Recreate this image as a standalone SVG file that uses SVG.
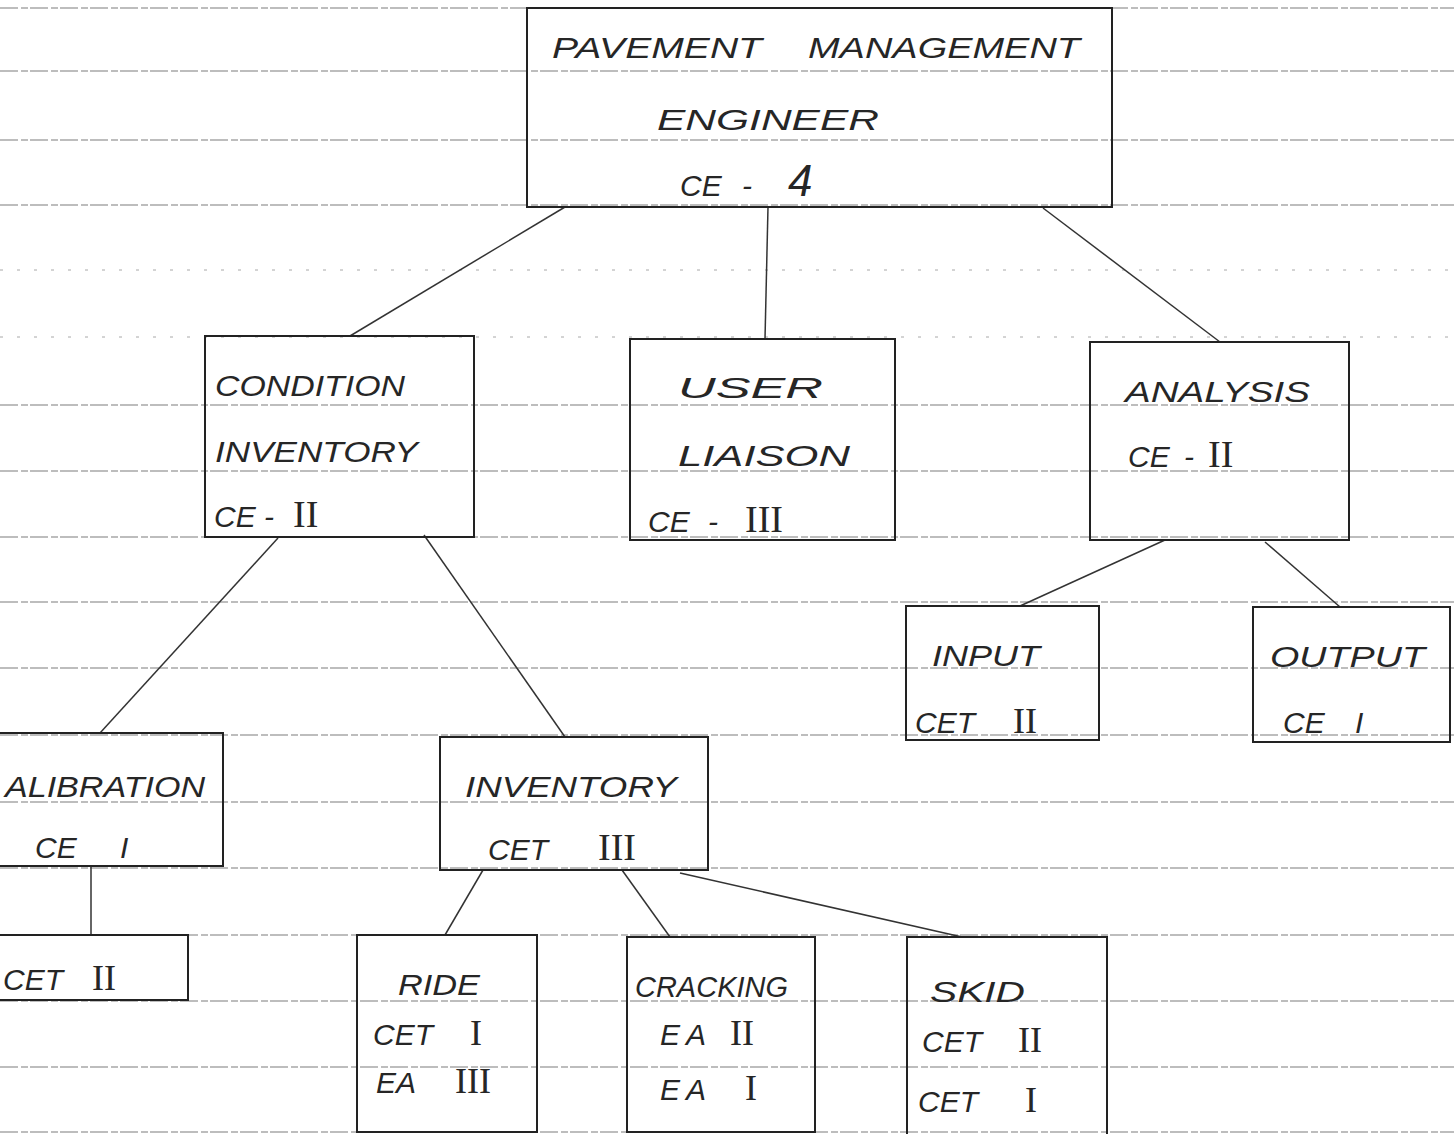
<svg xmlns="http://www.w3.org/2000/svg" width="1454" height="1134" viewBox="0 0 1454 1134">
<style>
.rule{stroke:#7d7d7d;stroke-width:1.2;stroke-dasharray:18 3 7 2;fill:none}
.faint{stroke:#a8a8a8;stroke-width:1;stroke-dasharray:3 14;fill:none}
.box{fill:none;stroke:#222;stroke-width:2}
.conn line{stroke:#333;stroke-width:1.5}
text{font-family:"Liberation Sans","DejaVu Sans",sans-serif;font-style:italic;fill:#262626;font-size:30px}
.rn{font-family:"Liberation Serif","DejaVu Serif",serif;font-style:normal}
</style>
<rect width="1454" height="1134" fill="#fff"/>
<g id="paper-rules">
<line class="rule" x1="0" y1="8" x2="1454" y2="8"/>
<line class="rule" x1="0" y1="71" x2="1454" y2="71"/>
<line class="rule" x1="0" y1="140" x2="1454" y2="140"/>
<line class="rule" x1="0" y1="205" x2="1454" y2="205"/>
<line class="faint" x1="0" y1="270" x2="1454" y2="270"/>
<line class="faint" x1="0" y1="337" x2="1454" y2="337"/>
<line class="rule" x1="0" y1="405" x2="1454" y2="405"/>
<line class="rule" x1="0" y1="471" x2="1454" y2="471"/>
<line class="rule" x1="0" y1="537" x2="1454" y2="537"/>
<line class="rule" x1="0" y1="602" x2="1454" y2="602"/>
<line class="rule" x1="0" y1="668" x2="1454" y2="668"/>
<line class="rule" x1="0" y1="735" x2="1454" y2="735"/>
<line class="rule" x1="0" y1="802" x2="1454" y2="802"/>
<line class="rule" x1="0" y1="868" x2="1454" y2="868"/>
<line class="rule" x1="0" y1="935" x2="1454" y2="935"/>
<line class="rule" x1="0" y1="1001" x2="1454" y2="1001"/>
<line class="rule" x1="0" y1="1067" x2="1454" y2="1067"/>
<line class="rule" x1="0" y1="1132" x2="1454" y2="1132"/>
</g>
<g id="connectors" class="conn">
<line x1="565" y1="207" x2="350" y2="336"/>
<line x1="768" y1="207" x2="765" y2="339"/>
<line x1="1043" y1="208" x2="1220" y2="342"/>
<line x1="278" y1="538" x2="100" y2="733"/>
<line x1="424" y1="535" x2="565" y2="737"/>
<line x1="1165" y1="540" x2="1020" y2="606"/>
<line x1="1265" y1="542" x2="1340" y2="607"/>
<line x1="91" y1="866" x2="91" y2="935"/>
<line x1="483" y1="870" x2="445" y2="935"/>
<line x1="622" y1="870" x2="670" y2="937"/>
<line x1="680" y1="873" x2="962" y2="937"/>
</g>
<g id="n-pme">
<rect class="box" x="527" y="8" width="585" height="199"/>
<text x="552" y="58" font-size="38" textLength="210" lengthAdjust="spacingAndGlyphs">PAVEMENT</text>
<text x="808" y="58" font-size="38" textLength="272" lengthAdjust="spacingAndGlyphs">MANAGEMENT</text>
<text x="657" y="130" font-size="32" textLength="222" lengthAdjust="spacingAndGlyphs">ENGINEER</text>
<text x="680" y="196" font-size="36">CE <tspan x="742">-</tspan><tspan x="788" font-size="44">4</tspan></text>
</g>
<g id="n-condition">
<rect class="box" x="205" y="336" width="269" height="201"/>
<text x="215" y="396" textLength="190" lengthAdjust="spacingAndGlyphs">CONDITION</text>
<text x="215" y="462" textLength="203" lengthAdjust="spacingAndGlyphs">INVENTORY</text>
<text x="214" y="527">CE -<tspan class="rn" x="293" font-size="38">II</tspan></text>
</g>
<g id="n-user">
<rect class="box" x="630" y="339" width="265" height="201"/>
<text x="678" y="398" textLength="145" lengthAdjust="spacingAndGlyphs">USER</text>
<text x="678" y="466" textLength="172" lengthAdjust="spacingAndGlyphs">LIAISON</text>
<text x="648" y="532">CE <tspan x="708">-</tspan><tspan class="rn" x="745" font-size="38">III</tspan></text>
</g>
<g id="n-analysis">
<rect class="box" x="1090" y="342" width="259" height="198"/>
<text x="1125" y="402" textLength="185" lengthAdjust="spacingAndGlyphs">ANALYSIS</text>
<text x="1128" y="467">CE <tspan x="1184">-</tspan><tspan class="rn" x="1208" font-size="38">II</tspan></text>
</g>
<g id="n-input">
<rect class="box" x="906" y="606" width="193" height="134"/>
<text x="932" y="666" font-size="28" textLength="108" lengthAdjust="spacingAndGlyphs">INPUT</text>
<text x="915" y="733" font-size="28">CET<tspan class="rn" x="1013" font-size="36">II</tspan></text>
</g>
<g id="n-output">
<rect class="box" x="1253" y="607" width="197" height="135"/>
<text x="1270" y="667" font-size="28" textLength="155" lengthAdjust="spacingAndGlyphs">OUTPUT</text>
<text x="1283" y="733" font-size="30">CE <tspan x="1355">I</tspan></text>
</g>
<g id="n-calibration">
<rect class="box" x="-5" y="733" width="228" height="133"/>
<text x="5" y="797" font-size="28" textLength="200" lengthAdjust="spacingAndGlyphs">ALIBRATION</text>
<text x="35" y="858" font-size="32">CE <tspan x="120">I</tspan></text>
</g>
<g id="n-cet2-left">
<rect class="box" x="-5" y="935" width="193" height="65"/>
<text x="3" y="990" font-size="30">CET<tspan class="rn" x="92" font-size="36">II</tspan></text>
</g>
<g id="n-inventory">
<rect class="box" x="440" y="737" width="268" height="133"/>
<text x="465" y="797" font-size="28" textLength="212" lengthAdjust="spacingAndGlyphs">INVENTORY</text>
<text x="488" y="860" font-size="30">CET<tspan class="rn" x="598" font-size="38">III</tspan></text>
</g>
<g id="n-ride">
<rect class="box" x="357" y="935" width="180" height="197"/>
<text x="398" y="995" font-size="28" textLength="82" lengthAdjust="spacingAndGlyphs">RIDE</text>
<text x="373" y="1045" font-size="28">CET<tspan class="rn" x="470" font-size="36">I</tspan></text>
<text x="376" y="1093" font-size="28">EA<tspan class="rn" x="455" font-size="36">III</tspan></text>
</g>
<g id="n-cracking">
<rect class="box" x="627" y="937" width="188" height="195"/>
<text x="635" y="997" font-size="24" textLength="153" lengthAdjust="spacingAndGlyphs">CRACKING</text>
<text x="660" y="1045" font-size="28" letter-spacing="6">EA<tspan class="rn" x="730" font-size="36" letter-spacing="0">II</tspan></text>
<text x="660" y="1100" font-size="28" letter-spacing="6">EA<tspan class="rn" x="745" font-size="36" letter-spacing="0">I</tspan></text>
</g>
<g id="n-skid">
<rect class="box" x="907" y="937" width="200" height="199"/>
<text x="930" y="1002" font-size="30" textLength="95" lengthAdjust="spacingAndGlyphs">SKID</text>
<text x="922" y="1052" font-size="28">CET<tspan class="rn" x="1018" font-size="36">II</tspan></text>
<text x="918" y="1112" font-size="28">CET<tspan class="rn" x="1025" font-size="36">I</tspan></text>
</g>
</svg>
